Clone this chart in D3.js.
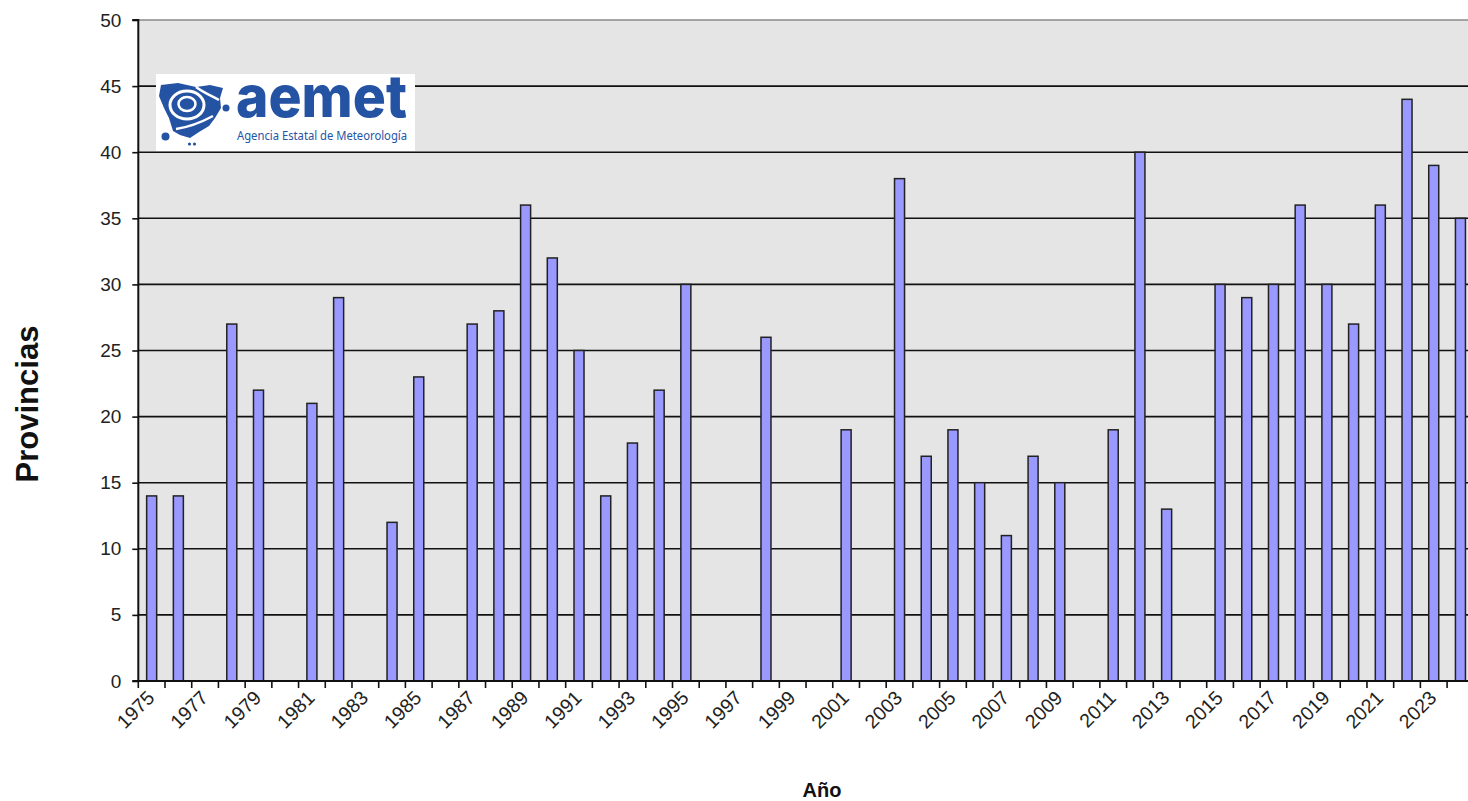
<!DOCTYPE html>
<html>
<head>
<meta charset="utf-8">
<script src="https://cdn.jsdelivr.net/npm/d3@7"></script>
<style>
  html, body { margin: 0; padding: 0; background: #ffffff; overflow: hidden; }
  svg { display: block; }
</style>
</head>
<body>
<svg id="chart" width="1468" height="801"></svg>
<script>
// ---- Data ----
const years = d3.range(1975, 2025);
const values = [14, 14, 0, 27, 22, 0, 21, 29, 0, 12,
                23, 0, 27, 28, 36, 32, 25, 14, 18, 22,
                30, 0, 0, 26, 0, 0, 19, 0, 38, 17,
                19, 15, 11, 17, 15, 0, 19, 40, 13, 0,
                30, 29, 30, 36, 30, 27, 36, 44, 39, 35];
const yTicks = [0, 5, 10, 15, 20, 25, 30, 35, 40, 45, 50];
const xLabelYears = d3.range(1975, 2025, 2);
const yTitle = "Provincias";
const xTitle = "Año";

(function () {
// ---- Layout ----
const svg = d3.select("#chart");
const pLeft = 138.3, step = 26.71, pTop = 20, pBottom = 681;
const pRight = pLeft + step * years.length;

const x = d3.scaleBand().domain(years).range([pLeft, pRight])
  .paddingInner(0.625).paddingOuter(0.3125);
const y = d3.scaleLinear().domain([0, 50]).range([pBottom, pTop]);

// plot background
svg.append("rect").attr("x", pLeft).attr("y", pTop)
  .attr("width", pRight - pLeft).attr("height", pBottom - pTop)
  .attr("fill", "#e5e5e5");

// gridlines
svg.append("g").selectAll("line").data(yTicks.filter(d => d > 0))
  .join("line")
  .attr("x1", pLeft).attr("x2", pRight)
  .attr("y1", d => y(d)).attr("y2", d => y(d))
  .attr("stroke", d => d === 50 ? "#8a8a8a" : "#111")
  .attr("stroke-width", 1.6);

// bars
const data = years.map((yr, i) => ({ year: yr, value: values[i] }));
svg.append("g").selectAll("rect").data(data.filter(d => d.value > 0))
  .join("rect")
  .attr("x", d => x(d.year))
  .attr("y", d => y(d.value))
  .attr("width", x.bandwidth())
  .attr("height", d => y(0) - y(d.value))
  .attr("fill", "#9999ff")
  .attr("stroke", "#222")
  .attr("stroke-width", 1.5);

// y axis
const yAxis = d3.axisLeft(y).tickValues(yTicks).tickSize(6).tickPadding(11)
  .tickFormat(d3.format("d"));
const gy = svg.append("g").attr("transform", `translate(${pLeft},0)`).call(yAxis);
gy.select(".domain").attr("stroke", "#111").attr("stroke-width", 2).attr("d", `M-6,${pTop}H0V${pBottom}`);
gy.selectAll(".tick line").attr("stroke", "#111").attr("stroke-width", 1.6);
gy.selectAll(".tick text").attr("font-family", "Liberation Sans, Arial, sans-serif")
  .attr("font-size", 19).attr("fill", "#222");

// x axis (ticks at category boundaries)
const gx = svg.append("g");
gx.append("line").attr("x1", pLeft - 6).attr("x2", pRight)
  .attr("y1", pBottom).attr("y2", pBottom)
  .attr("stroke", "#111").attr("stroke-width", 2);
const boundaries = years.map(yr => x(yr) - x.step() * x.paddingOuter());
gx.selectAll("line.tk").data(boundaries).join("line").attr("class", "tk")
  .attr("x1", d => d).attr("x2", d => d)
  .attr("y1", pBottom).attr("y2", pBottom + 7)
  .attr("stroke", "#111").attr("stroke-width", 1.6);
gx.selectAll("text").data(xLabelYears).join("text")
  .attr("transform", d => `translate(${x(d) + x.bandwidth() / 2 + 4},${pBottom + 18}) rotate(-45)`)
  .attr("text-anchor", "end")
  .attr("font-family", "Liberation Sans, Arial, sans-serif")
  .attr("font-size", 19.5).attr("fill", "#222")
  .text(d => d);

// titles
svg.append("text").attr("transform", "translate(38,404) rotate(-90)")
  .attr("text-anchor", "middle")
  .attr("font-family", "Liberation Sans, Arial, sans-serif")
  .attr("font-weight", "bold").attr("font-size", 31).attr("fill", "#111")
  .text(yTitle);
svg.append("text").attr("x", 822).attr("y", 797)
  .attr("text-anchor", "middle")
  .attr("font-family", "Liberation Sans, Arial, sans-serif")
  .attr("font-weight", "bold").attr("font-size", 20).attr("fill", "#111")
  .text(xTitle);

// logo
const blue = "#2553a3";
const logo = svg.append("g");
logo.append("rect").attr("x", 156).attr("y", 74).attr("width", 259).attr("height", 77).attr("fill", "#fff");
logo.append("path")
  .attr("d", "M161,85 L178,83 L196,87 L210,85 L223,88 L220,98 L221,108 L215,118 L209,126 L199,132 L190,138 L180,135 L173,131 L169,118 L164,108 L159,96 Z")
  .attr("fill", blue);
logo.append("ellipse").attr("cx", 187).attr("cy", 105).attr("rx", 17).attr("ry", 14)
  .attr("fill", "none").attr("stroke", "#fff").attr("stroke-width", 3);
logo.append("ellipse").attr("cx", 187).attr("cy", 104).attr("rx", 8.5).attr("ry", 7)
  .attr("fill", "none").attr("stroke", "#fff").attr("stroke-width", 2.5);
logo.append("path").attr("d", "M196,87 C204,93 212,96 219,100").attr("fill", "none").attr("stroke", "#fff").attr("stroke-width", 2.5);
logo.append("path").attr("d", "M176,129 C190,127 200,123 213,116").attr("fill", "none").attr("stroke", "#fff").attr("stroke-width", 2.5);
logo.append("circle").attr("cx", 165.5).attr("cy", 136.5).attr("r", 4).attr("fill", blue);
logo.append("circle").attr("cx", 226).attr("cy", 108).attr("r", 3.5).attr("fill", blue);
logo.append("circle").attr("cx", 189.5).attr("cy", 144).attr("r", 1.6).attr("fill", blue);
logo.append("circle").attr("cx", 194.5).attr("cy", 144).attr("r", 1.6).attr("fill", blue);
logo.append("text").attr("x", 236).attr("y", 117)
  .attr("font-family", "Inter, Lato, sans-serif").attr("font-weight", 800)
  .attr("font-size", 58).attr("fill", blue)
  .attr("textLength", 171).attr("lengthAdjust", "spacingAndGlyphs")
  .text("aemet");
logo.append("text").attr("x", 237).attr("y", 140)
  .attr("font-family", "Noto Sans, sans-serif")
  .attr("font-size", 12.5).attr("fill", blue)
  .attr("textLength", 170).attr("lengthAdjust", "spacingAndGlyphs")
  .text("Agencia Estatal de Meteorología");
})();
</script>
</body>
</html>
